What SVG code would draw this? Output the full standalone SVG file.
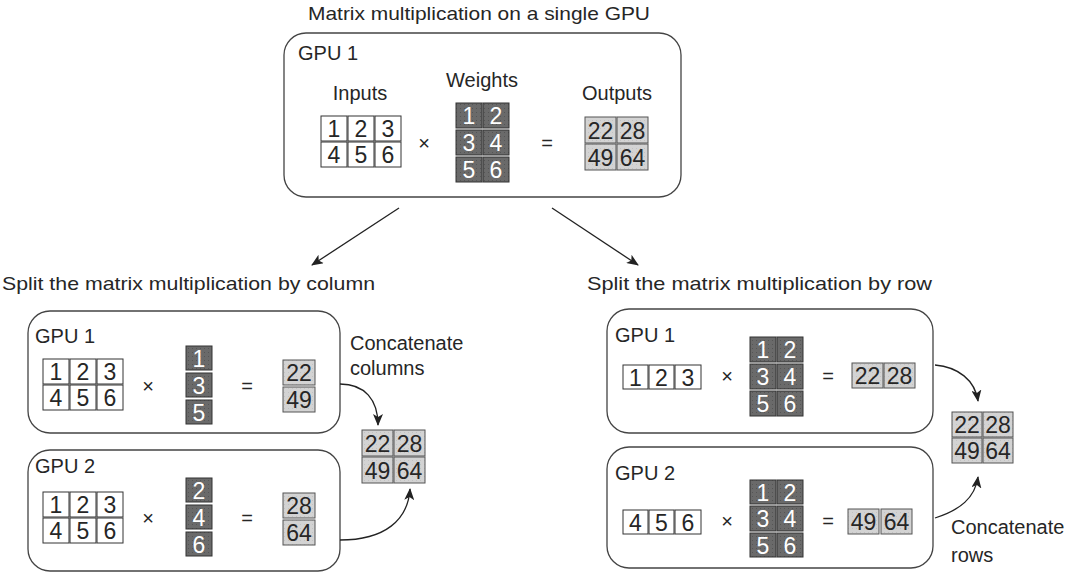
<svg xmlns="http://www.w3.org/2000/svg" width="1071" height="574" viewBox="0 0 1071 574">
<defs>
<pattern id="dots" width="4" height="4" patternUnits="userSpaceOnUse">
<rect width="4" height="4" fill="#6a6a6a"/>
<rect width="1" height="1" fill="#555"/>
</pattern>
<pattern id="ldots" width="4" height="4" patternUnits="userSpaceOnUse">
<rect width="4" height="4" fill="#d3d3d3"/>
<rect width="1" height="1" fill="#c2c2c2"/>
</pattern>
<marker id="ah" markerWidth="12" markerHeight="10" refX="11" refY="5" orient="auto" markerUnits="userSpaceOnUse">
<path d="M0,0 L12,5 L0,10 L3,5 Z" fill="#222"/>
</marker>
</defs>
<style>
text{font-family:"Liberation Sans","DejaVu Sans",sans-serif;fill:#262626}
.lbl{font-size:20px}
.hd{font-size:19px}
.box{fill:#fff;stroke:#444;stroke-width:1.3}
.in{fill:#fff;stroke:#333;stroke-width:1}
.wt{fill:url(#dots);stroke:#333;stroke-width:1}
.out{fill:url(#ldots);stroke:#555;stroke-width:1}
.n{font-size:23px;text-anchor:middle}
.wn{font-size:23px;text-anchor:middle;fill:#fff}
.op{font-size:20px;text-anchor:middle}
.con{fill:none;stroke:#222;stroke-width:1.3}
</style>
<rect width="1071" height="574" fill="#fff"/>

<text class="hd" x="308" y="20" textLength="342" lengthAdjust="spacingAndGlyphs">Matrix multiplication on a single GPU</text>
<text class="hd" x="2" y="290" textLength="373" lengthAdjust="spacingAndGlyphs">Split the matrix multiplication by column</text>
<text class="hd" x="587" y="290" textLength="345" lengthAdjust="spacingAndGlyphs">Split the matrix multiplication by row</text>

<g id="top-gpu1">
<rect class="box" x="284" y="33" width="397" height="164" rx="22"/>
<text class="lbl" x="298" y="60">GPU 1</text>
<text class="lbl" x="360" y="100" text-anchor="middle">Inputs</text>
<text class="lbl" x="482" y="87" text-anchor="middle">Weights</text>
<text class="lbl" x="617" y="100" text-anchor="middle">Outputs</text>
<rect class="in" x="321" y="116" width="26" height="25"/><text class="n" x="334" y="137">1</text>
<rect class="in" x="348" y="116" width="26" height="25"/><text class="n" x="361" y="137">2</text>
<rect class="in" x="375" y="116" width="26" height="25"/><text class="n" x="388" y="137">3</text>
<rect class="in" x="321" y="142" width="26" height="25"/><text class="n" x="334" y="163">4</text>
<rect class="in" x="348" y="142" width="26" height="25"/><text class="n" x="361" y="163">5</text>
<rect class="in" x="375" y="142" width="26" height="25"/><text class="n" x="388" y="163">6</text>
<text class="op" x="424" y="150">×</text>
<rect class="wt" x="456" y="103" width="26" height="25"/><text class="wn" x="469" y="124">1</text>
<rect class="wt" x="483" y="103" width="26" height="25"/><text class="wn" x="496" y="124">2</text>
<rect class="wt" x="456" y="130" width="26" height="25"/><text class="wn" x="469" y="151">3</text>
<rect class="wt" x="483" y="130" width="26" height="25"/><text class="wn" x="496" y="151">4</text>
<rect class="wt" x="456" y="157" width="26" height="25"/><text class="wn" x="469" y="178">5</text>
<rect class="wt" x="483" y="157" width="26" height="25"/><text class="wn" x="496" y="178">6</text>
<text class="op" x="547" y="150">=</text>
<rect class="out" x="585" y="117" width="31" height="26"/><text class="n" x="600.5" y="139">22</text>
<rect class="out" x="617" y="117" width="31" height="26"/><text class="n" x="632.5" y="139">28</text>
<rect class="out" x="585" y="144" width="31" height="26"/><text class="n" x="600.5" y="166">49</text>
<rect class="out" x="617" y="144" width="31" height="26"/><text class="n" x="632.5" y="166">64</text>
</g>

<g id="col-gpu1">
<rect class="box" x="28" y="311" width="312" height="122" rx="22"/>
<text class="lbl" x="35" y="343">GPU 1</text>
<rect class="in" x="43" y="359" width="26" height="25"/><text class="n" x="56" y="380">1</text>
<rect class="in" x="70" y="359" width="26" height="25"/><text class="n" x="83" y="380">2</text>
<rect class="in" x="97" y="359" width="26" height="25"/><text class="n" x="110" y="380">3</text>
<rect class="in" x="43" y="385" width="26" height="25"/><text class="n" x="56" y="406">4</text>
<rect class="in" x="70" y="385" width="26" height="25"/><text class="n" x="83" y="406">5</text>
<rect class="in" x="97" y="385" width="26" height="25"/><text class="n" x="110" y="406">6</text>
<text class="op" x="148" y="393">×</text>
<rect class="wt" x="186" y="346" width="26" height="24"/><text class="wn" x="199" y="367">1</text>
<rect class="wt" x="186" y="373" width="26" height="24"/><text class="wn" x="199" y="394">3</text>
<rect class="wt" x="186" y="400" width="26" height="24"/><text class="wn" x="199" y="421">5</text>
<text class="op" x="247" y="393">=</text>
<rect class="out" x="283" y="360" width="32" height="25"/><text class="n" x="299" y="381">22</text>
<rect class="out" x="283" y="387" width="32" height="25"/><text class="n" x="299" y="408">49</text>
</g>

<g id="col-gpu2">
<rect class="box" x="28" y="450" width="312" height="121" rx="22"/>
<text class="lbl" x="35" y="473">GPU 2</text>
<rect class="in" x="43" y="492" width="26" height="25"/><text class="n" x="56" y="513">1</text>
<rect class="in" x="70" y="492" width="26" height="25"/><text class="n" x="83" y="513">2</text>
<rect class="in" x="97" y="492" width="26" height="25"/><text class="n" x="110" y="513">3</text>
<rect class="in" x="43" y="518" width="26" height="25"/><text class="n" x="56" y="539">4</text>
<rect class="in" x="70" y="518" width="26" height="25"/><text class="n" x="83" y="539">5</text>
<rect class="in" x="97" y="518" width="26" height="25"/><text class="n" x="110" y="539">6</text>
<text class="op" x="148" y="525">×</text>
<rect class="wt" x="186" y="478" width="26" height="24"/><text class="wn" x="199" y="499">2</text>
<rect class="wt" x="186" y="505" width="26" height="24"/><text class="wn" x="199" y="526">4</text>
<rect class="wt" x="186" y="532" width="26" height="24"/><text class="wn" x="199" y="553">6</text>
<text class="op" x="247" y="525">=</text>
<rect class="out" x="283" y="493" width="32" height="25"/><text class="n" x="299" y="514">28</text>
<rect class="out" x="283" y="520" width="32" height="25"/><text class="n" x="299" y="541">64</text>
</g>

<g id="col-result">
<text class="lbl" x="350" y="350">Concatenate</text>
<text class="lbl" x="350" y="375">columns</text>
<rect class="out" x="362" y="430" width="31" height="26"/><text class="n" x="377.5" y="452">22</text>
<rect class="out" x="394" y="430" width="31" height="26"/><text class="n" x="409.5" y="452">28</text>
<rect class="out" x="362" y="457" width="31" height="26"/><text class="n" x="377.5" y="479">49</text>
<rect class="out" x="394" y="457" width="31" height="26"/><text class="n" x="409.5" y="479">64</text>
</g>

<g id="row-gpu1">
<rect class="box" x="607" y="309" width="326" height="124" rx="22"/>
<text class="lbl" x="615" y="342">GPU 1</text>
<rect class="in" x="623" y="365" width="25" height="24"/><text class="n" x="635.5" y="386">1</text>
<rect class="in" x="649" y="365" width="25" height="24"/><text class="n" x="661.5" y="386">2</text>
<rect class="in" x="675" y="365" width="26" height="24"/><text class="n" x="688" y="386">3</text>
<text class="op" x="727" y="383">×</text>
<rect class="wt" x="750" y="337" width="26" height="25"/><text class="wn" x="763" y="358">1</text>
<rect class="wt" x="777" y="337" width="26" height="25"/><text class="wn" x="790" y="358">2</text>
<rect class="wt" x="750" y="364" width="26" height="25"/><text class="wn" x="763" y="385">3</text>
<rect class="wt" x="777" y="364" width="26" height="25"/><text class="wn" x="790" y="385">4</text>
<rect class="wt" x="750" y="391" width="26" height="25"/><text class="wn" x="763" y="412">5</text>
<rect class="wt" x="777" y="391" width="26" height="25"/><text class="wn" x="790" y="412">6</text>
<text class="op" x="828" y="383">=</text>
<rect class="out" x="852" y="363" width="31" height="25"/><text class="n" x="867.5" y="384">22</text>
<rect class="out" x="884" y="363" width="31" height="25"/><text class="n" x="899.5" y="384">28</text>
</g>

<g id="row-gpu2">
<rect class="box" x="607" y="447" width="326" height="121" rx="22"/>
<text class="lbl" x="615" y="480">GPU 2</text>
<rect class="in" x="623" y="510" width="25" height="24"/><text class="n" x="635.5" y="531">4</text>
<rect class="in" x="649" y="510" width="25" height="24"/><text class="n" x="661.5" y="531">5</text>
<rect class="in" x="675" y="510" width="26" height="24"/><text class="n" x="688" y="531">6</text>
<text class="op" x="727" y="528">×</text>
<rect class="wt" x="750" y="480" width="26" height="24"/><text class="wn" x="763" y="501">1</text>
<rect class="wt" x="777" y="480" width="26" height="24"/><text class="wn" x="790" y="501">2</text>
<rect class="wt" x="750" y="506" width="26" height="25"/><text class="wn" x="763" y="527">3</text>
<rect class="wt" x="777" y="506" width="26" height="25"/><text class="wn" x="790" y="527">4</text>
<rect class="wt" x="750" y="533" width="26" height="24"/><text class="wn" x="763" y="554">5</text>
<rect class="wt" x="777" y="533" width="26" height="24"/><text class="wn" x="790" y="554">6</text>
<text class="op" x="828" y="528">=</text>
<rect class="out" x="848" y="509" width="31" height="25"/><text class="n" x="863.5" y="530">49</text>
<rect class="out" x="881" y="509" width="31" height="25"/><text class="n" x="896.5" y="530">64</text>
</g>

<g id="row-result">
<rect class="out" x="952" y="412" width="30" height="25"/><text class="n" x="967" y="433">22</text>
<rect class="out" x="983" y="412" width="30" height="25"/><text class="n" x="998" y="433">28</text>
<rect class="out" x="952" y="438" width="30" height="25"/><text class="n" x="967" y="459">49</text>
<rect class="out" x="983" y="438" width="30" height="25"/><text class="n" x="998" y="459">64</text>
<text class="lbl" x="951" y="534">Concatenate</text>
<text class="lbl" x="951" y="562">rows</text>
</g>

<g id="connectors">
<path class="con" d="M399,208 L312,265" marker-end="url(#ah)"/>
<path class="con" d="M552,208 L638,265" marker-end="url(#ah)"/>
<path class="con" d="M340,384 C365,384 378,400 378,425" marker-end="url(#ah)"/>
<path class="con" d="M340,540 C385,540 408,520 410,489" marker-end="url(#ah)"/>
<path class="con" d="M935,365 C958,367 975,380 978,401" marker-end="url(#ah)"/>
<path class="con" d="M935,518 C960,510 975,498 978,477" marker-end="url(#ah)"/>
</g>
</svg>
